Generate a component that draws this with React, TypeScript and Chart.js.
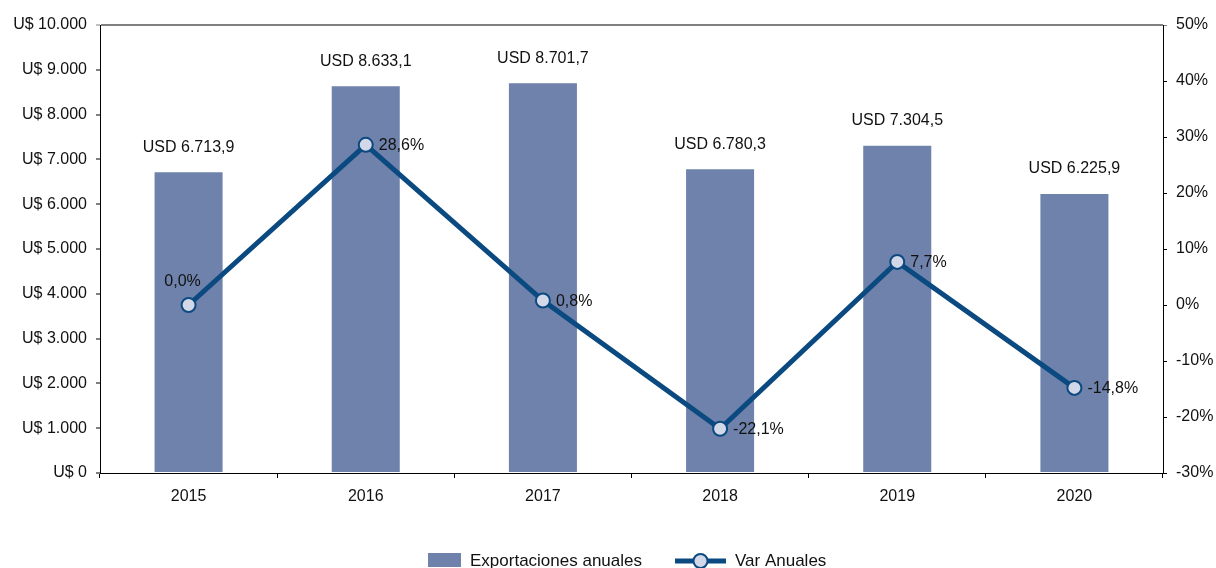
import React, { useEffect, useRef } from "react";
import { Chart, registerables } from "chart.js";

Chart.register(...registerables);

const years = ["2015", "2016", "2017", "2018", "2019", "2020"];
const exportaciones = [6713.9, 8633.1, 8701.7, 6780.3, 7304.5, 6225.9];
const varAnuales = [0.0, 28.6, 0.8, -22.1, 7.7, -14.8];
const barLabel = "Exportaciones anuales";
const lineLabel = "Var Anuales";

const BAR_COLOR = "#6f82ab";
const LINE_COLOR = "#0b4a80";
const POINT_FILL = "#d3d8e8";
const FONT = "'Liberation Sans', Arial, sans-serif";

const fmtUSD = (v: number) =>
  v.toLocaleString("de-DE", { minimumFractionDigits: 1, maximumFractionDigits: 1 });
const fmtPct = (v: number) =>
  v.toLocaleString("de-DE", { minimumFractionDigits: 1, maximumFractionDigits: 1 }) + "%";
const fmtAxis = (v: number) => "U$ " + v.toLocaleString("de-DE");

const labelsPlugin = {
  id: "customLabels",
  afterDatasetsDraw(chart: any) {
    const ctx = chart.ctx;
    ctx.save();
    ctx.fillStyle = "#111";
    ctx.font = `16px ${FONT}`;
    ctx.textBaseline = "middle";
    const barMeta = chart.getDatasetMeta(0);
    barMeta.data.forEach((el: any, i: number) => {
      ctx.textAlign = "center";
      ctx.fillText("USD " + fmtUSD(exportaciones[i]), el.x, el.y - 25);
    });
    const lineMeta = chart.getDatasetMeta(1);
    lineMeta.data.forEach((el: any, i: number) => {
      if (i === 0) {
        ctx.textAlign = "center";
        ctx.fillText(fmtPct(varAnuales[i]), el.x - 6, el.y - 23);
      } else {
        ctx.textAlign = "left";
        ctx.fillText(fmtPct(varAnuales[i]), el.x + 13, el.y + 1);
      }
    });
    ctx.restore();
  },
  afterDraw(chart: any) {
    const ctx = chart.ctx;
    ctx.save();
    const cy = 561;
    // bar swatch
    ctx.fillStyle = BAR_COLOR;
    ctx.fillRect(428, 553, 33, 14);
    ctx.fillStyle = "#111";
    ctx.font = `17px ${FONT}`;
    ctx.textBaseline = "middle";
    ctx.textAlign = "left";
    ctx.fillText(barLabel, 470, cy);
    // line swatch
    ctx.strokeStyle = LINE_COLOR;
    ctx.lineWidth = 5;
    ctx.beginPath();
    ctx.moveTo(675, cy);
    ctx.lineTo(726, cy);
    ctx.stroke();
    ctx.beginPath();
    ctx.arc(700.5, cy, 7, 0, Math.PI * 2);
    ctx.fillStyle = POINT_FILL;
    ctx.fill();
    ctx.lineWidth = 2;
    ctx.stroke();
    ctx.fillStyle = "#111";
    ctx.fillText(lineLabel, 735, cy);
    ctx.restore();
  },
};

export default function App() {
  const ref = useRef<HTMLCanvasElement | null>(null);
  useEffect(() => {
    if (!ref.current) return;
    Chart.defaults.font.family = FONT;
    Chart.defaults.color = "#111";
    const chart = new Chart(ref.current, {
      type: "bar",
      data: {
        labels: years,
        datasets: [
          {
            type: "bar",
            label: barLabel,
            data: exportaciones,
            backgroundColor: BAR_COLOR,
            yAxisID: "y",
            barPercentage: 0.384,
            categoryPercentage: 1,
            order: 1,
          },
          {
            type: "line",
            label: lineLabel,
            data: varAnuales,
            borderColor: LINE_COLOR,
            borderWidth: 5,
            pointRadius: 7,
            pointHoverRadius: 7,
            pointBackgroundColor: POINT_FILL,
            pointBorderColor: LINE_COLOR,
            pointBorderWidth: 2,
            yAxisID: "y1",
            tension: 0,
            order: 0,
          } as any,
        ],
      },
      options: {
        animation: false,
        responsive: false,
        maintainAspectRatio: false,
        layout: { padding: { top: 25, left: 0, right: 0, bottom: 0 } },
        plugins: {
          legend: { display: false },
          tooltip: { enabled: false },
        },
        scales: {
          x: {
            offset: true,
            grid: {
              offset: true,
              drawOnChartArea: false,
              drawTicks: true,
              tickLength: 5,
              color: "#000",
            },
            border: { display: true, color: "#000", width: 1 },
            ticks: { font: { size: 16 }, padding: 9, color: "#111" },
            afterFit: (s: any) => {
              s.height = 95;
            },
          },
          y: {
            position: "left",
            min: 0,
            max: 10000,
            ticks: {
              stepSize: 1000,
              font: { size: 16 },
              padding: 9,
              color: "#111",
              callback: (v: any) => fmtAxis(Number(v)),
            },
            grid: {
              drawOnChartArea: true,
              tickLength: 4,
              color: (c: any) => (c.tick && c.tick.value === 10000 ? "#808080" : "rgba(0,0,0,0)"),
              tickColor: (c: any) => (c.tick && c.tick.value === 10000 ? "#808080" : "#000"),
              lineWidth: 2,
              tickWidth: 1,
            },
            border: { display: true, color: "#000", width: 1 },
            afterFit: (s: any) => {
              s.width = 100;
            },
          },
          y1: {
            position: "right",
            min: -30,
            max: 50,
            ticks: {
              stepSize: 10,
              font: { size: 16 },
              padding: 9,
              color: "#111",
              callback: (v: any) => Number(v) + "%",
            },
            grid: {
              drawOnChartArea: false,
              tickLength: 4,
              tickColor: (c: any) => (c.tick && c.tick.value === 50 ? "#808080" : "#000"),
            },
            border: { display: true, color: "#000", width: 1 },
            afterFit: (s: any) => {
              s.width = 53;
            },
          },
        },
      },
      plugins: [labelsPlugin],
    });
    return () => chart.destroy();
  }, []);
  return (
    <div style={{ position: "fixed", left: 0, top: 0, width: 1216, height: 568, background: "#fff" }}>
      <canvas ref={ref} width={1216} height={568} style={{ width: 1216, height: 568, display: "block" }} />
    </div>
  );
}
